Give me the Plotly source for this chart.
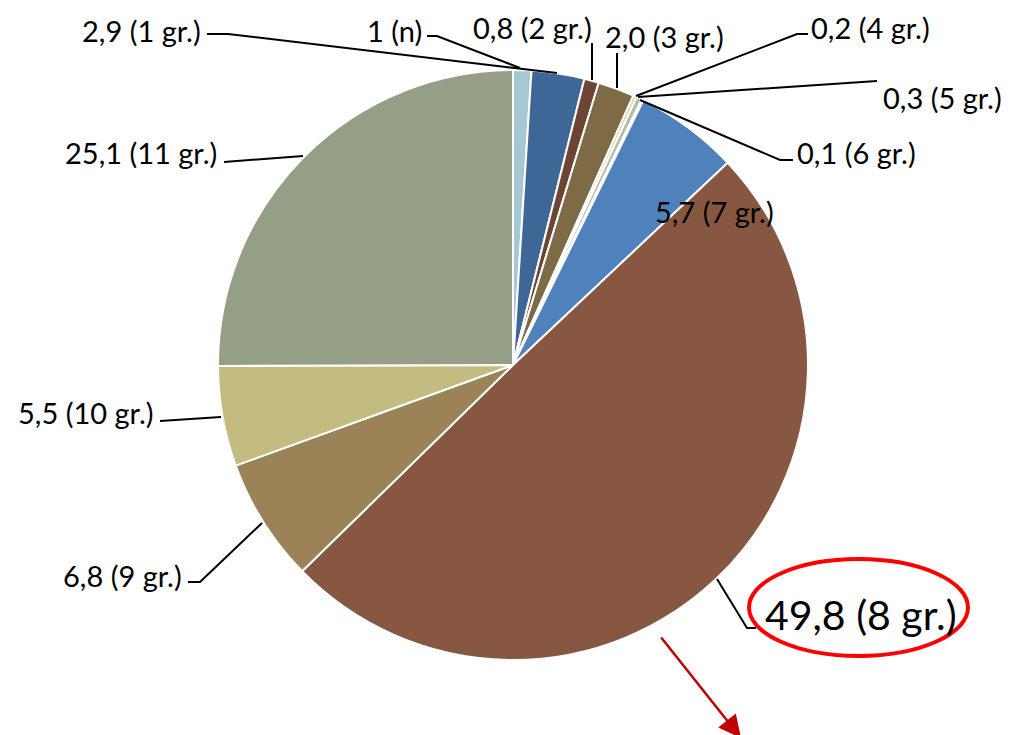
import plotly.graph_objects as go

W, H = 1015, 735
OFF = 8  # browser default body margin

# ---- data ----
groups = ["n", "1 gr.", "2 gr.", "3 gr.", "4 gr.", "5 gr.", "6 gr.",
          "7 gr.", "8 gr.", "9 gr.", "10 gr.", "11 gr."]
values = [1.0, 2.9, 0.8, 2.0, 0.2, 0.3, 0.1, 5.7, 49.8, 6.8, 5.5, 25.1]
value_text = ["1", "2,9", "0,8", "2,0", "0,2", "0,3", "0,1",
              "5,7", "49,8", "6,8", "5,5", "25,1"]
colors = ["#A5C8D4", "#3E6798", "#6E4434", "#7E6A45", "#D8D3B5", "#B4BCA4",
          "#7D8B6E", "#4F81BD", "#875741", "#9B8357", "#C3BC80", "#959F86"]

labels = [f"{v} ({g})" for v, g in zip(value_text, groups)]


def px(x):
    return (x - OFF) / W


def py(y):
    return 1 - (y - OFF) / H


fig = go.Figure(go.Pie(
    values=values,
    labels=labels,
    sort=False,
    direction="clockwise",
    rotation=0,
    marker=dict(colors=colors, line=dict(color="white", width=2)),
    textinfo="none",
    hoverinfo="label",
    showlegend=False,
    domain=dict(x=[px(218), px(808)], y=[py(660), py(70)]),
))

# label placement (pixel coords: anchor x, center y, xanchor)
label_pos = {
    "n": (424, 31, "right"),
    "1 gr.": (203, 31, "right"),
    "2 gr.": (594, 27, "right"),
    "3 gr.": (603, 37, "left"),
    "4 gr.": (809, 27, "left"),
    "5 gr.": (1004, 97, "right"),
    "6 gr.": (795, 152, "left"),
    "7 gr.": (653, 211, "left"),
    "8 gr.": (763, 614, "left"),
    "9 gr.": (184, 575, "right"),
    "10 gr.": (156, 412, "right"),
    "11 gr.": (219, 152, "right"),
}

# leader lines (pixel coords)
leaders = {
    "n": [(427, 36), (437, 36), (520, 68)],
    "1 gr.": [(207, 34), (228, 34), (557, 73)],
    "2 gr.": [(592, 43), (592, 80)],
    "3 gr.": [(617, 53), (617, 88)],
    "4 gr.": [(808, 34), (797, 34), (636, 96)],
    "5 gr.": [(877, 81), (638, 97)],
    "6 gr.": [(640, 100), (780, 160), (793, 160)],
    "8 gr.": [(717, 579), (747, 628), (756, 628)],
    "9 gr.": [(188, 582), (200, 582), (262, 523)],
    "10 gr.": [(160, 421), (221, 417)],
    "11 gr.": [(224, 162), (303, 156)],
}

FONT = "Lato"
annotations = []
for g, lab in zip(groups, labels):
    x, y, xa = label_pos[g]
    size = 41 if g == "8 gr." else 29
    annotations.append(dict(
        x=px(x), y=py(y), xref="paper", yref="paper",
        text=lab, showarrow=False, xanchor=xa, yanchor="middle",
        font=dict(family=FONT, size=size, color="black"),
    ))

shapes = []
for g, pts in leaders.items():
    path = "M " + " L ".join(f"{px(a)},{py(b)}" for a, b in pts)
    shapes.append(dict(type="path", path=path, xref="paper", yref="paper",
                       line=dict(color="black", width=2)))

# red ellipse highlight
shapes.append(dict(type="circle", xref="paper", yref="paper",
                   x0=px(749), x1=px(968), y0=py(656), y1=py(559),
                   line=dict(color="#FF0000", width=4)))

# red arrow
annotations.append(dict(
    x=px(741), y=py(738), xref="paper", yref="paper",
    ax=660 - 741, ay=636 - 738, axref="pixel", ayref="pixel",
    text="", showarrow=True, arrowhead=2, arrowsize=1.8, arrowwidth=2.5,
    arrowcolor="#C00000",
))

fig.update_layout(
    width=W, height=H,
    margin=dict(l=0, r=0, t=0, b=0),
    paper_bgcolor="white",
    plot_bgcolor="white",
    annotations=annotations,
    shapes=shapes,
)

fig.write_html("out.html")
